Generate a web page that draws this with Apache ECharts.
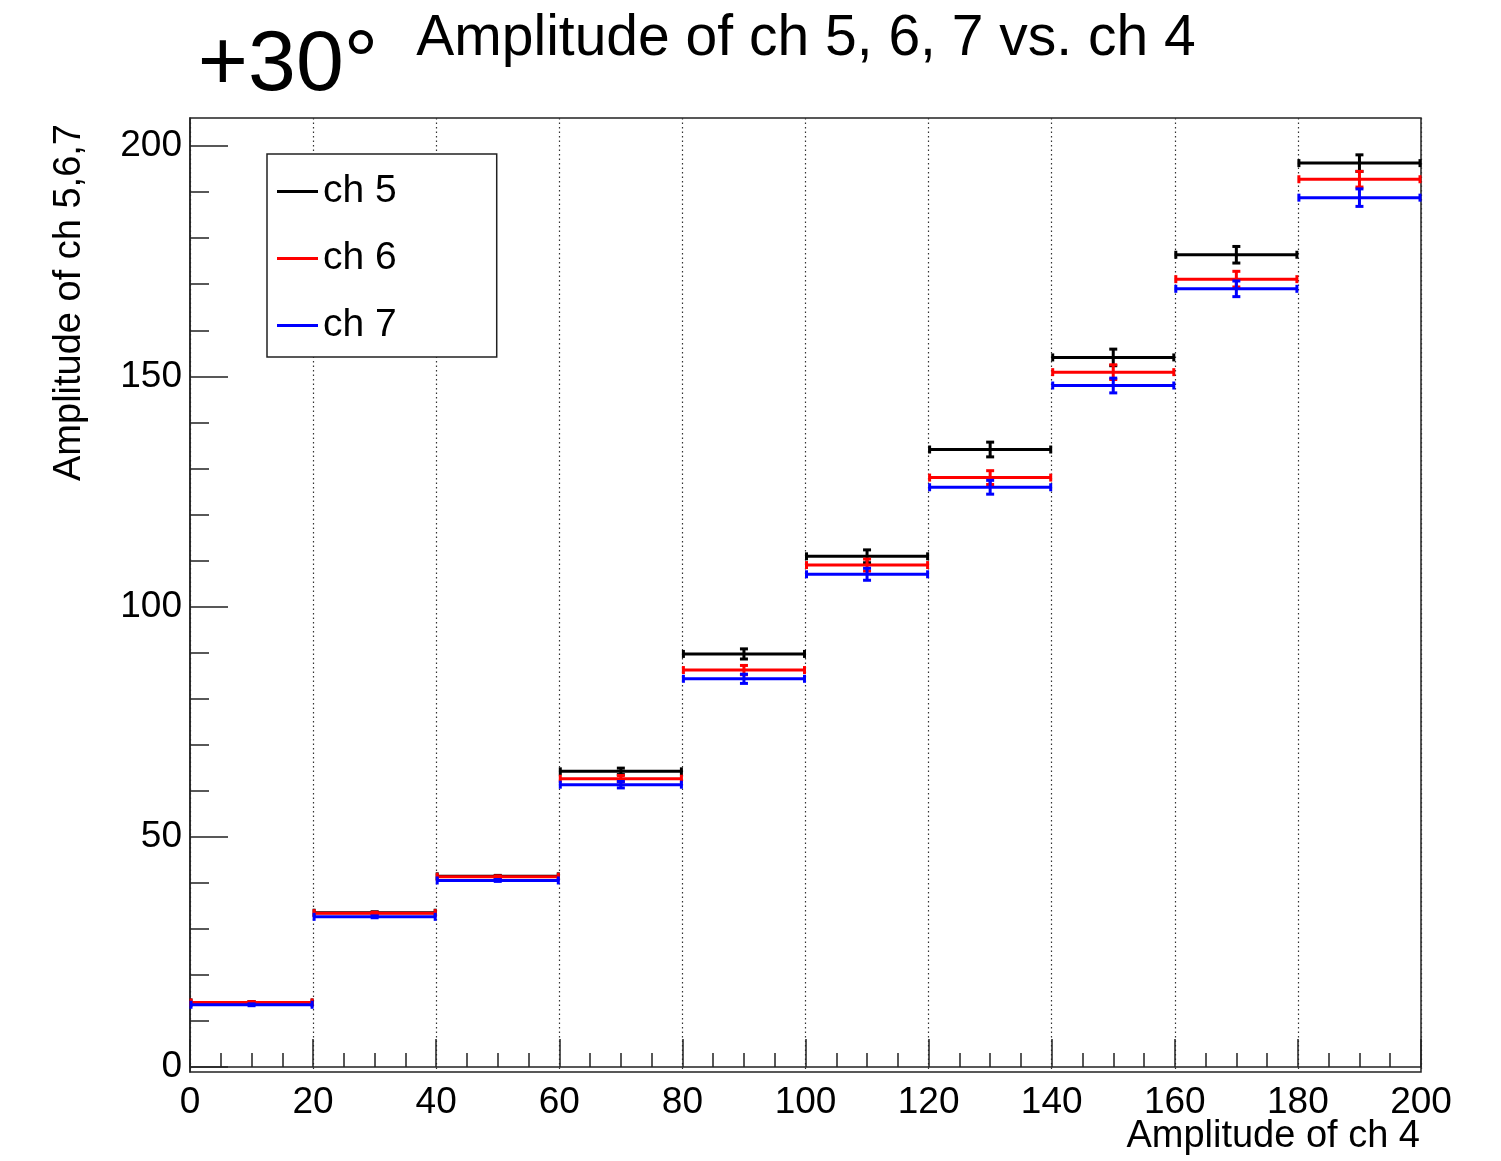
<!DOCTYPE html>
<html>
<head>
<meta charset="utf-8">
<script src="https://cdn.jsdelivr.net/npm/echarts@6/dist/echarts.min.js"></script>
<style>
  html, body { margin: 0; padding: 0; background: #fff; }
  #chart { width: 1501px; height: 1161px; }
</style>
</head>
<body>
<div id="chart"></div>
<script>
// ---- data ----
const binEdges = [0, 20, 40, 60, 80, 100, 120, 140, 160, 180, 200];
const ch5 = [14.0, 33.5, 41.4, 64.2, 89.7, 110.9, 134.1, 154.1, 176.4, 196.3];
const ch6 = [14.0, 33.4, 41.3, 62.6, 86.2, 109.0, 128.0, 150.9, 171.1, 192.8];
const ch7 = [13.5, 32.6, 40.5, 61.3, 84.3, 107.0, 125.9, 148.0, 169.0, 188.8];
const err5 = [0.2, 0.2, 0.2, 0.7, 1.1, 1.4, 1.6, 1.8, 1.8, 1.8];
const err6 = [0.2, 0.2, 0.2, 0.7, 1.0, 1.3, 1.5, 1.6, 1.7, 1.7];
const err7 = [0.2, 0.2, 0.2, 0.7, 1.0, 1.3, 1.5, 1.6, 1.7, 1.9];
const seriesNames = ['ch 5', 'ch 6', 'ch 7'];
const seriesColors = ['#000000', '#ff0000', '#0000ff'];
const yTickValues = [0, 50, 100, 150, 200];
const yMinorTickValues = [0, 10, 20, 30, 40, 50, 60, 70, 80, 90, 100, 110, 120, 130, 140, 150, 160, 170, 180, 190, 200];
const mainTitle = 'Amplitude of ch 5, 6, 7 vs. ch 4';
const cornerLabel = '+30°';
const xTitle = 'Amplitude of ch 4';
const yTitle = 'Amplitude of ch 5,6,7';

const FONT = '"Liberation Sans", Arial, Helvetica, sans-serif';

function makeData(vals, errs) {
  return vals.map((v, i) => [(binEdges[i] + binEdges[i + 1]) / 2, v, errs[i], binEdges[i], binEdges[i + 1]]);
}

function renderItem(params, api) {
  const xc = api.value(0), y = api.value(1), e = api.value(2), lo = api.value(3), hi = api.value(4);
  const pL = api.coord([lo, y]), pR = api.coord([hi, y]);
  const pT = api.coord([xc, y + e]), pB = api.coord([xc, y - e]);
  const color = api.visual('color');
  const cap = 4;
  const st = { stroke: color, lineWidth: 3, lineCap: 'butt' };
  const L = (x1, y1, x2, y2) => ({ type: 'line', shape: { x1, y1, x2, y2 }, style: st });
  return {
    type: 'group',
    children: [
      L(pL[0], pL[1], pR[0], pR[1]),
      L(pL[0] + 1, pL[1] - cap, pL[0] + 1, pL[1] + cap),
      L(pR[0] - 1, pR[1] - cap, pR[0] - 1, pR[1] + cap),
      L(pT[0], pT[1], pB[0], pB[1]),
      L(pT[0] - cap, pT[1], pT[0] + cap, pT[1]),
      L(pB[0] - cap, pB[1], pB[0] + cap, pB[1])
    ]
  };
}

const allVals = [ch5, ch6, ch7];
const allErrs = [err5, err6, err7];

const chart = echarts.init(document.getElementById('chart'), null, { renderer: 'canvas' });
const gridL = 190, gridR = 80, gridT = 118, gridB = 89;

chart.setOption({
  animation: false,
  backgroundColor: '#ffffff',
  textStyle: { fontFamily: FONT },
  grid: {
    left: gridL, right: gridR, top: gridT, bottom: gridB,
    show: true, borderColor: '#222', borderWidth: 1.5, backgroundColor: 'transparent'
  },
  legend: {
    data: seriesNames,
    orient: 'vertical',
    left: 267, top: 154,
    padding: [18, 100, 12, 10],
    itemGap: 28,
    itemWidth: 41, itemHeight: 3,
    icon: 'rect',
    backgroundColor: '#fff',
    borderColor: '#222', borderWidth: 1.5,
    textStyle: { fontSize: 39, color: '#000', fontFamily: FONT, lineHeight: 39 }
  },
  xAxis: {
    type: 'value', min: 0, max: 200, interval: 20,
    axisLine: { show: true, lineStyle: { color: '#222', width: 1.5 } },
    axisTick: { show: true, inside: true, length: 28, lineStyle: { color: '#222', width: 1.5 } },
    minorTick: { show: true, splitNumber: 4, length: 14, lineStyle: { color: '#222', width: 1.5 } },
    axisLabel: { fontSize: 37, color: '#000', margin: 12, fontFamily: FONT },
    splitLine: { show: true, lineStyle: { color: '#333', width: 1.2, type: [1.5, 3] } }
  },
  yAxis: [
    {
      type: 'value', min: -1.1, max: 206.1,
      axisLine: { show: true, lineStyle: { color: '#222', width: 1.5 } },
      axisTick: { show: true, inside: true, length: 38, customValues: yTickValues, lineStyle: { color: '#222', width: 1.5 } },
      axisLabel: { fontSize: 37, color: '#000', margin: 8, customValues: yTickValues, fontFamily: FONT },
      splitLine: { show: false }
    },
    {
      type: 'value', min: -1.1, max: 206.1, position: 'left', offset: 0,
      axisLine: { show: false },
      axisTick: { show: true, inside: true, length: 19, customValues: yMinorTickValues, lineStyle: { color: '#222', width: 1.5 } },
      axisLabel: { show: false },
      splitLine: { show: false }
    }
  ],
  graphic: [
    {
      type: 'text', x: 806, y: 39,
      style: { text: mainTitle, font: '57px ' + FONT, fill: '#000', textAlign: 'center', textVerticalAlign: 'middle' }
    },
    {
      type: 'text', x: 288, y: 66,
      style: { text: cornerLabel, font: '86px ' + FONT, fill: '#000', textAlign: 'center', textVerticalAlign: 'middle' }
    },
    {
      type: 'text', x: 1420, y: 1137,
      style: { text: xTitle, font: '38px ' + FONT, fill: '#000', textAlign: 'right', textVerticalAlign: 'middle' }
    },
    {
      type: 'text', x: 70, y: 124, rotation: Math.PI / 2,
      style: { text: yTitle, font: '38px ' + FONT, fill: '#000', textAlign: 'right', textVerticalAlign: 'middle' }
    }
  ],
  series: seriesNames.map((name, k) => ({
    name,
    type: 'custom',
    renderItem,
    yAxisIndex: 0,
    itemStyle: { color: seriesColors[k] },
    encode: { x: 0, y: 1 },
    data: makeData(allVals[k], allErrs[k]),
    z: 2 + k
  }))
});
</script>
</body>
</html>
